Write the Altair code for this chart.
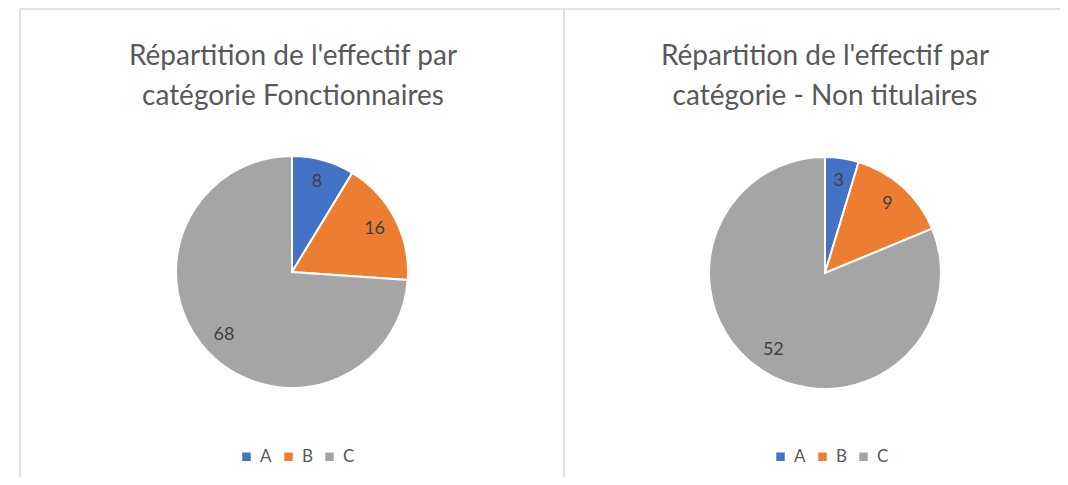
import altair as alt
import pandas as pd

categories = ["A", "B", "C"]
fonctionnaires = [8, 16, 68]
non_titulaires = [3, 9, 52]
colors = ["#4472C4", "#ED7D31", "#A5A5A5"]
title_left = ["Répartition de l'effectif par", "catégorie Fonctionnaires"]
title_right = ["Répartition de l'effectif par", "catégorie - Non titulaires"]

FONT = "Lato"
TEXT_COLOR = "#595959"
BORDER = "#D9D9D9"


def pie(values, cx, cy, lx, ly, title_lines, tx, ty):
    df = pd.DataFrame({"cat": categories, "value": values})
    base = alt.Chart(df).encode(
        theta=alt.Theta("value:Q", stack=True),
        order=alt.Order("cat:N", sort="ascending"),
    )
    arcs = base.mark_arc(outerRadius=116, stroke="white", strokeWidth=2).encode(
        x=alt.value(cx),
        y=alt.value(cy),
        color=alt.Color(
            "cat:N",
            scale=alt.Scale(domain=categories, range=colors),
            legend=alt.Legend(
                title=None,
                orient="none",
                legendX=lx,
                legendY=ly,
                direction="horizontal",
                symbolType="square",
                symbolSize=72,
                symbolStrokeWidth=0,
                labelFont=FONT,
                labelFontSize=17,
                labelColor=TEXT_COLOR,
                labelOffset=5,
                columnPadding=8,
                padding=0,
            ),
        ),
    )
    labels = base.mark_text(radius=93, fontSize=18, color="#404040", font=FONT).encode(
        x=alt.value(cx),
        y=alt.value(cy),
        text="value:Q",
    )
    title = alt.Chart(alt.Data(values=[{}])).mark_text(
        text=title_lines,
        font=FONT,
        fontSize=28,
        color=TEXT_COLOR,
        align="center",
        baseline="alphabetic",
        lineHeight=40,
    ).encode(x=alt.value(tx), y=alt.value(ty))
    return alt.layer(arcs, labels, title)


left = pie(fonctionnaires, 284, 264, 230, 440, title_left, 285, 57)
right = pie(non_titulaires, 817, 265, 764, 440, title_right, 817, 57)

rule_data = alt.Data(values=[{}])
top_line = alt.Chart(rule_data).mark_rule(color=BORDER, strokeWidth=1.5).encode(
    x=alt.value(12), x2=alt.value(1052), y=alt.value(1)
)
left_line = alt.Chart(rule_data).mark_rule(color=BORDER, strokeWidth=1.5).encode(
    x=alt.value(12), y=alt.value(1), y2=alt.value(469)
)
sep_line = alt.Chart(rule_data).mark_rule(color=BORDER, strokeWidth=1.5).encode(
    x=alt.value(556), y=alt.value(1), y2=alt.value(469)
)

chart = (
    alt.layer(top_line, left_line, sep_line, left, right)
    .resolve_scale(theta="independent", color="independent")
    .properties(width=1052, height=469, autosize="none", padding=0)
    .configure_view(stroke=None)
)

chart.save("out.html", embed_options={"renderer": "svg", "actions": False})
